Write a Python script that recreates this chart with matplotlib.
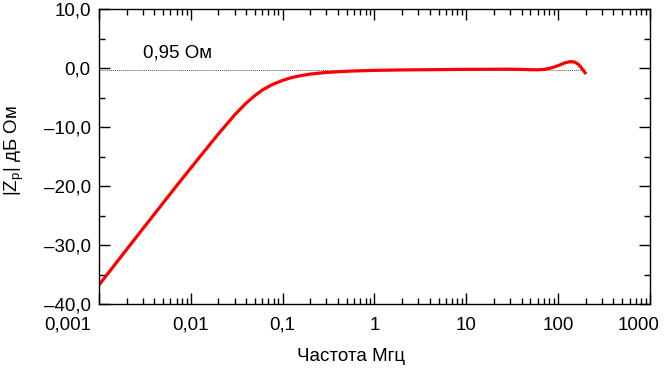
# Частотная характеристика |Zp|
import numpy as np
import matplotlib
matplotlib.use("Agg")
import matplotlib.pyplot as plt
from matplotlib.ticker import LogLocator, MultipleLocator, FixedLocator, FixedFormatter, NullFormatter
from matplotlib.transforms import ScaledTranslation

plt.rcParams['font.family'] = ['Liberation Sans', 'DejaVu Sans']

# Данные
freq_mhz = [0.001, 0.0015, 0.002, 0.003, 0.005, 0.007, 0.01, 0.015, 0.02, 0.03,
            0.04, 0.05, 0.06, 0.07, 0.08, 0.1, 0.12, 0.15, 0.2, 0.25,
            0.3, 0.5, 0.7, 1, 2, 3, 5, 10, 20, 30,
            40, 50, 60, 70, 80, 90, 100, 110, 120, 135,
            145, 155, 165, 175, 185, 197]
zp_db = [-36.7, -33.2, -30.7, -27.2, -22.8, -19.9, -16.9, -13.5, -11.1, -7.9,
         -5.9, -4.6, -3.7, -3.1, -2.65, -2.05, -1.65, -1.3, -0.98, -0.82,
         -0.7, -0.5, -0.42, -0.35, -0.28, -0.25, -0.22, -0.18, -0.16, -0.15,
         -0.18, -0.24, -0.25, -0.18, -0.02, 0.2, 0.45, 0.72, 0.95, 1.12,
         1.12, 0.98, 0.7, 0.3, -0.2, -0.75]
ref_db = -0.3
ref_label = "0,95 Ом"

x_ticks = [0.001, 0.01, 0.1, 1, 10, 100, 1000]
x_labels = ["0,001", "0,01", "0,1", "1", "10", "100", "1000"]
y_ticks = [-40, -30, -20, -10, 0, 10]
y_labels = ["\u201340,0", "\u201330,0", "\u201320,0", "\u201310,0", "0,0", "10,0"]

fs = 13.5

fig = plt.figure(figsize=(6.7, 3.69), dpi=100)
ax = fig.add_axes([0.1478, 0.1753, 0.8222, 0.7995])

ax.hlines(ref_db, 0.001, 190, colors='0.35', linestyles=(0, (1, 1)), linewidth=0.7)
ax.plot(freq_mhz, zp_db, color='#ff0000', linewidth=2.3, solid_joinstyle='round')
ax.text(0.003, 2.6, ref_label, fontsize=fs, ha='left', va='center')

ax.set_xscale('log')
ax.set_xlim(0.001, 1000)
ax.set_ylim(-40, 10)

ax.xaxis.set_major_locator(FixedLocator(x_ticks))
ax.xaxis.set_major_formatter(FixedFormatter(x_labels))
ax.xaxis.set_minor_locator(LogLocator(base=10, subs=np.arange(2, 10), numticks=20))
ax.xaxis.set_minor_formatter(NullFormatter())
ax.yaxis.set_major_locator(FixedLocator(y_ticks))
ax.yaxis.set_major_formatter(FixedFormatter(y_labels))
ax.yaxis.set_minor_locator(MultipleLocator(5))

ax.tick_params(which='both', direction='in', top=True, right=True, width=1.0, labelsize=fs)
ax.tick_params(which='major', length=8)
ax.tick_params(which='minor', length=4.5)
ax.tick_params(axis='x', which='major', pad=9)
ax.tick_params(axis='y', which='major', pad=6)
for s in ax.spines.values():
    s.set_linewidth(1.0)

# сдвиг крайних подписей оси X, как в оригинале
labels = ax.get_xticklabels()
labels[0].set_transform(labels[0].get_transform() + ScaledTranslation(-0.31, 0, fig.dpi_scale_trans))
labels[-1].set_transform(labels[-1].get_transform() + ScaledTranslation(-0.11, 0, fig.dpi_scale_trans))

ax.set_xlabel("Частота Мгц", fontsize=fs)
ax.xaxis.set_label_coords(0.457, -0.148)
ax.set_ylabel(r"|Z$_\mathregular{p}$| дБ Ом", fontsize=fs)
ax.yaxis.set_label_coords(-0.132, 0.52)

fig.savefig("out.png", dpi=100)
